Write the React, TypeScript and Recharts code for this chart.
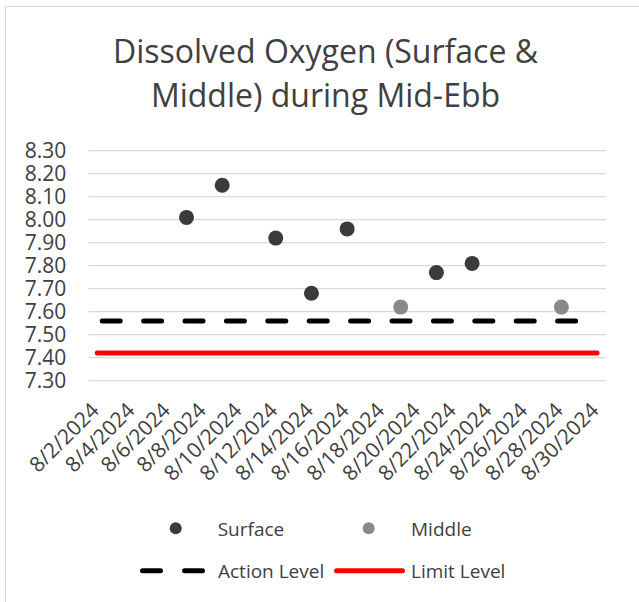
import React from 'react';
import { ComposedChart, Scatter, Line, XAxis, YAxis, CartesianGrid } from 'recharts';

// sampling days in August 2024
const surfaceDays = [7, 9, 12, 14, 16, 21, 23];
const surfaceValues = [8.01, 8.15, 7.92, 7.68, 7.96, 7.77, 7.81];
const middleDays = [19, 28];
const middleValues = [7.62, 7.62];

// level lines run over the whole period
const levelDays = [2, 30];
const actionLevel = 7.56;
const limitLevel = 7.42;

const xTickDays = [2, 4, 6, 8, 10, 12, 14, 16, 18, 20, 22, 24, 26, 28, 30];
const yTicks = [7.3, 7.4, 7.5, 7.6, 7.7, 7.8, 7.9, 8.0, 8.1, 8.2, 8.3];

const titleLines = ['Dissolved Oxygen (Surface &', 'Middle) during Mid-Ebb'];

const FONT = '"Open Sans", "Noto Sans", sans-serif';
const TEXT = '#404040';
const SURFACE = '#3b3b3b';
const MIDDLE = '#898989';

const surfaceData = surfaceDays.map((day, i) => ({ day, value: surfaceValues[i] }));
const middleData = middleDays.map((day, i) => ({ day, value: middleValues[i] }));
const actionData = levelDays.map(day => ({ day, value: actionLevel }));
const limitData = levelDays.map(day => ({ day, value: limitLevel }));

const formatDate = (d: number) => `8/${d}/2024`;

const dot = (color: string, r: number) => (props: any) =>
  <circle cx={props.cx} cy={props.cy} r={r} fill={color} />;

const DateTick = (props: any) => {
  const { x, y, payload } = props;
  const tx = x + 3;
  const ty = y + 31;
  return (
    <text x={tx} y={ty} transform={`rotate(-45, ${tx}, ${ty})`} textAnchor="end"
      fontFamily={FONT} fontSize={21} fill={TEXT}>
      {formatDate(payload.value)}
    </text>
  );
};

const Overlay = () => (
  <svg width={639} height={602} style={{ position: 'absolute', left: 0, top: 0, pointerEvents: 'none' }}>
    {titleLines.map((t, i) => (
      <text key={t} x={325.5} y={62.7 + i * 44} textAnchor="middle" fontFamily={FONT} fontSize={32} fill={TEXT}>{t}</text>
    ))}
    <g fontFamily={FONT} fontSize={19} fill={TEXT}>
      <circle cx={175.7} cy={528.3} r={6} fill={SURFACE} />
      <text x={217.7} y={535.7}>Surface</text>
      <circle cx={368.7} cy={528.3} r={6} fill={MIDDLE} />
      <text x={411} y={535.7}>Middle</text>
      <line x1={142.5} y1={570.7} x2={202.5} y2={570.7} stroke="#000" strokeWidth={5}
        strokeLinecap="round" strokeDasharray="18 24" />
      <text x={218} y={578.3}>Action Level</text>
      <line x1={336.5} y1={570.7} x2={402.5} y2={570.7} stroke="#ff0000" strokeWidth={5} strokeLinecap="round" />
      <text x={411} y={578.3}>Limit Level</text>
    </g>
  </svg>
);

const App: React.FC = () => {
  return (
    <div style={{ position: 'absolute', left: 0, top: 0, width: 639, height: 602, overflow: 'hidden', background: '#fff' }}>
      <div style={{ position: 'absolute', left: 5, top: 6, width: 700, height: 700, border: '1px solid #d9d9d9' }} />
      <div style={{ position: 'absolute', left: 0, top: 0 }}>
        <ComposedChart width={639} height={602} margin={{ top: 150.7, right: 33, left: 0, bottom: 101.3 }}>
          <CartesianGrid horizontal vertical={false} stroke="#d9d9d9" strokeWidth={1.3} />
          <XAxis type="number" dataKey="day" domain={[1.5, 30.5]} ticks={xTickDays} allowDataOverflow
            axisLine={false} tickLine={false} tickSize={0} tickMargin={0} height={120}
            interval={0} tick={<DateTick />} />
          <YAxis type="number" dataKey="value" domain={[7.3, 8.3]} ticks={yTicks} allowDataOverflow
            axisLine={false} tickLine={false} tickSize={0} tickMargin={22} width={88.3} interval={0}
            tickFormatter={(v: number) => v.toFixed(2)}
            tick={{ fill: TEXT, fontFamily: FONT, fontSize: 21 }} />
          <Line data={limitData} dataKey="value" stroke="#ff0000" strokeWidth={5} strokeLinecap="round"
            dot={false} activeDot={false} isAnimationActive={false} name="Limit Level" />
          <Line data={actionData} dataKey="value" stroke="#000" strokeWidth={5} strokeLinecap="round"
            strokeDasharray="18 23.4" strokeDashoffset={36.4}
            dot={false} activeDot={false} isAnimationActive={false} name="Action Level" />
          <Scatter data={surfaceData} dataKey="value" shape={dot(SURFACE, 7.5)} isAnimationActive={false} name="Surface" />
          <Scatter data={middleData} dataKey="value" shape={dot(MIDDLE, 7.5)} isAnimationActive={false} name="Middle" />
        </ComposedChart>
      </div>
      <Overlay />
    </div>
  );
};

export default App;
